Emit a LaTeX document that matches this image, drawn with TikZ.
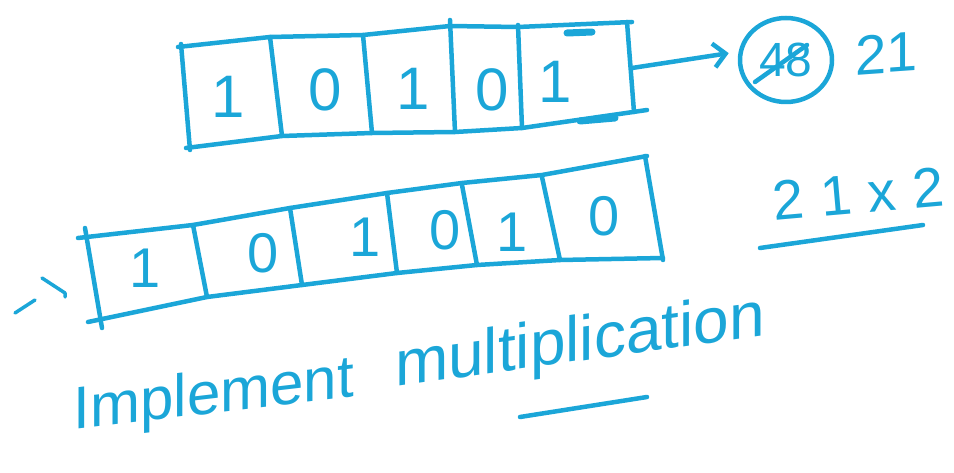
\documentclass[tikz,border=0pt]{standalone}
\usepackage{fontspec}
\setmainfont{Liberation Sans}
\usetikzlibrary{shapes.geometric,arrows.meta}
\definecolor{ink}{RGB}{27,166,216}
\begin{document}
\begin{tikzpicture}[x=1pt,y=-1pt,
  pen/.style={draw=ink,line width=4.5pt,line cap=round,line join=round},
  blot/.style={draw=ink,line width=7pt,line cap=round},
  digit/.style={text=ink,font=\fontsize{60}{60}\selectfont,inner sep=0pt},
  digitb/.style={text=ink,font=\fontsize{56}{56}\selectfont,inner sep=0pt},
  hand/.style={text=ink,inner sep=0pt,anchor=base},
  ring/.style={pen,ellipse,minimum width=92pt,minimum height=84pt,inner sep=0pt}]
\useasboundingbox (0,0) rectangle (954,473);
% ---- top register
\draw[pen] (178,47) -- (270,37) -- (363,35) -- (450,26) -- (518,27) -- (632,22);
\draw[pen] (186,148) -- (282,136) -- (372,133) -- (455,132) -- (522,128) -- (647,110);
\draw[pen] (181,44) -- (190,150);
\draw[pen] (627,22) -- (634,112);
\draw[pen] (270,37) -- (282,136);
\draw[pen] (363,35) -- (372,133);
\draw[pen] (450,20) -- (455,132);
\draw[pen] (518,25) -- (522,128);
\draw[blot] (567,33) -- (592,32);
\draw[blot] (580,121) -- (615,118);
\node[digit] (d1) at (228,97) {1};
\node[digit] (d2) at (325,90) {0};
\node[digit] (d3) at (413,89) {1};
\node[digit] (d4) at (492,90) {0};
\node[digit] (d5) at (555,82) {1};
\coordinate (tr) at (632,68);
\node[ring] (c) at (786,60) {};
\node[hand,font=\fontsize{48}{48}\selectfont,anchor=center] (cv) at (c.center) {48};
\draw[pen] (755,82) -- (807,45);
\draw[pen,-{Straight Barb[length=12pt,width=24pt]},shorten >=10pt] (tr) -- (c.170);
\begin{scope}[shift={(887,73)},yslant=0.07]
  \node[hand,font=\fontsize{56}{56}\selectfont,transform shape] (r) at (0,0) {21};
\end{scope}
% ---- lower register
\draw[pen] (78,238) -- (193,225) -- (290,208) -- (387,193) -- (462,183) -- (542,175) -- (647,156);
\draw[pen] (88,322) -- (207,297) -- (302,285) -- (397,273) -- (477,265) -- (560,260) -- (663,258);
\draw[pen] (85,228) -- (102,328);
\draw[pen] (645,156) -- (663,260);
\draw[pen] (193,225) -- (207,297);
\draw[pen] (290,208) -- (302,285);
\draw[pen] (387,193) -- (397,273);
\draw[pen] (462,185) -- (477,265);
\draw[pen] (542,177) -- (560,260);
\node[digitb] (e1) at (145,268) {1};
\node[digitb] (e2) at (263,253) {0};
\node[digitb] (e3) at (365,237) {1};
\node[digitb] (e4) at (445,230) {0};
\node[digitb] (e5) at (512,232) {1};
\node[digitb] (e6) at (604,216) {0};
% ---- left mark
\draw[pen,line width=3.5pt] (42,278) -- (65,293) -- (65,297);
\draw[pen,line width=3.5pt] (15,313) -- (35,300);
% ---- 21x2
\node[hand,font=\fontsize{56}{56}\selectfont\addfontfeature{LetterSpace=30},rotate=5] (m) at (860,213) {21x2};
\draw[pen] (760,248) -- (923,225);
% ---- caption (baseline sloping up, letters kept upright)
\begin{scope}[shift={(214,413)},yslant=0.116]
  \node[hand,font=\fontsize{60}{60}\selectfont,transform shape] (t1) at (0,0) {Implement};
\end{scope}
\begin{scope}[shift={(580,361)},yslant=0.14]
  \node[hand,font=\fontsize{64}{64}\selectfont,transform shape] (t2) at (0,0) {multiplication};
\end{scope}
\draw[pen] (520,417) -- (647,397);
\end{tikzpicture}
\end{document}
